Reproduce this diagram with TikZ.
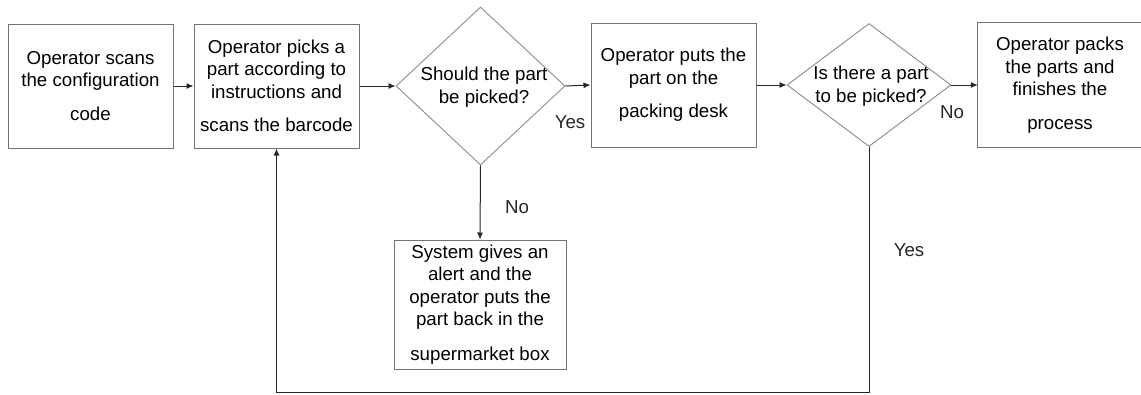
\documentclass[tikz,border=0pt]{standalone}
\usepackage{fontspec}
\setmainfont{Liberation Sans}
\usetikzlibrary{shapes.geometric,arrows.meta}
\begin{document}
\begin{tikzpicture}[x=1pt,y=-1pt,
  every node/.style={font=\fontsize{18.7}{22.5}\selectfont, inner sep=0pt},
  boxline/.style={draw=black!55, line width=1pt},
  procbox/.style={boxline, minimum width=165pt, minimum height=124pt, align=center},
  decision/.style={draw=black!45, line width=0.9pt, shape=diamond},
  flow/.style={draw=black!85, line width=1pt, -{Latex[length=7pt,width=6pt]}},
  lbl/.style={text=black!85}]
\useasboundingbox (0,0) rectangle (1141,394);

% process boxes
\node[procbox] (scan) at (90.5,86) {Operator scans\\the configuration\\[11pt]code};
\node[procbox] (pick) at (276.5,86) {Operator picks a\\part according to\\instructions and\\[11pt]scans the barcode};
\node[procbox] (desk) at (673.5,85) {Operator puts the\\part on the\\[11pt]packing desk};
% the last box runs past the right edge of the page: only three sides are seen
\node[minimum width=200pt, minimum height=124pt] (pack) at (1078,85) {};
\draw[boxline] (pack.north east) -- (pack.north west) -- (pack.south west) -- (pack.south east);
\node[align=center] at (1060,85) {Operator packs\\the parts and\\finishes the\\[11pt]process};
\node[procbox, minimum width=172pt, minimum height=129pt] (alert) at (480,304.5)
  {System gives an\\alert and the\\operator puts the\\part back in the\\[12pt]supermarket box};

% decisions: outline and text set separately so the text may touch the edges
\node[decision, minimum width=169pt, minimum height=158pt] (q1) at (480.5,86) {};
\node[align=center] at (484,87) {Should the part\\be picked?};
\node[decision, minimum width=164pt, minimum height=123pt] (q2) at (869,85) {};
\node[align=center] at (871,86) {Is there a part\\to be picked?};

% connectors
\draw[flow] (scan.east) -- (pick.west);
\draw[flow] (pick.east) -- (q1.west);
\draw[flow] (q1.east) -- (desk.west);
\draw[flow] (desk.east) -- (q2.west);
\draw[flow] (q2.east) -- (pack.west);
\draw[flow] (q1.south) -- (alert.north);
\coordinate (loopR) at (869,392);
\coordinate (loopL) at (276.5,392);
\draw[flow] (q2.south) -- (loopR) -- (loopL) -- (pick.south);

% branch labels
\node[lbl] at (570,122) {Yes};
\node[lbl] at (952,112) {No};
\node[lbl] at (517,207) {No};
\node[lbl] at (909,250) {Yes};
\end{tikzpicture}
\end{document}
